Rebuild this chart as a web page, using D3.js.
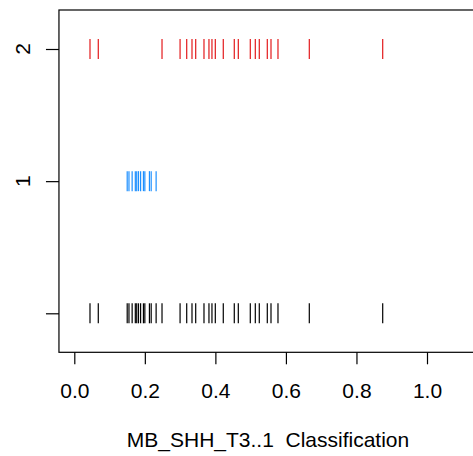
<!DOCTYPE html>
<html><head><meta charset="utf-8">
<script src="https://cdn.jsdelivr.net/npm/d3@7"></script>
<style>body{margin:0;background:#fff}svg{display:block}text{font-family:"Liberation Sans",Arial,sans-serif}</style>
</head><body>
<script>
const group1 = [0.150,0.155,0.164,0.173,0.177,0.182,0.188,0.196,0.200,0.213,0.218,0.232];
const group2 = [0.0445,0.068,0.2487,0.2999,0.3187,0.3337,0.3442,0.3677,0.3818,0.3903,0.3998,0.4224,0.4536,0.465,0.499,0.5132,0.5245,0.5472,0.5577,0.5775,0.6663,0.8744];
const xTicks = [0,0.2,0.4,0.6,0.8,1.0];
const yLevels = [0,1,2];
const yLabels = ["","1","2"];
const xTitle = "MB_SHH_T3..1  Classification";
const colors = ["#000000","#1e90ff","#e31a1c"];

(function(){
const W=473,H=456;
const svg=d3.select("body").append("svg").attr("width",W).attr("height",H);
const x=d3.scaleLinear().domain([0,1]).range([74.3,427]);
const y=d3.scaleLinear().domain([0,2]).range([313.3,49]);
const pLeft=x(-0.0435), pTop=10, pBottom=352.3, pRight=x(1.25);

const rows=[{lvl:0,vals:group1.concat(group2),c:colors[0]},{lvl:1,vals:group1,c:colors[1]},{lvl:2,vals:group2,c:colors[2]}];
rows.forEach(r=>{
  svg.append("g").selectAll("line").data(r.vals).join("line")
    .attr("x1",d=>x(d)).attr("x2",d=>x(d))
    .attr("y1",y(r.lvl)-10).attr("y2",y(r.lvl)+10)
    .attr("stroke",r.c).attr("stroke-width",1.2);
});

svg.append("rect").attr("x",pLeft).attr("y",pTop).attr("width",pRight-pLeft).attr("height",pBottom-pTop)
  .attr("fill","none").attr("stroke","#000").attr("stroke-width",1.2);

const xa=svg.append("g").attr("transform",`translate(0,${pBottom})`)
  .call(d3.axisBottom(x).tickValues(xTicks).tickFormat(d3.format(".1f")).tickSize(12).tickPadding(19));
xa.select(".domain").remove();
xa.selectAll("line").attr("stroke","#000").attr("stroke-width",1.2);
xa.selectAll("text").attr("font-size",21).attr("fill","#000").attr("font-family","Liberation Sans, Arial, sans-serif");

const ya=svg.append("g").attr("transform",`translate(${pLeft},0)`)
  .call(d3.axisLeft(y).tickValues(yLevels).tickFormat((d,i)=>yLabels[i]).tickSize(13).tickPadding(0));
ya.select(".domain").remove();
ya.selectAll("line").attr("stroke","#000").attr("stroke-width",1.2);
ya.selectAll("text").remove();
svg.append("g").selectAll("text").data(yLevels).join("text")
  .attr("transform",d=>`translate(29.5,${y(d)}) rotate(-90)`)
  .attr("text-anchor","middle").attr("font-size",21).attr("fill","#000")
  .text((d,i)=>yLabels[i]);

svg.append("text").attr("x",268).attr("y",447).attr("text-anchor","middle")
  .attr("font-size",21).attr("fill","#000").style("white-space","pre").text(xTitle);
})();
</script>
</body></html>
